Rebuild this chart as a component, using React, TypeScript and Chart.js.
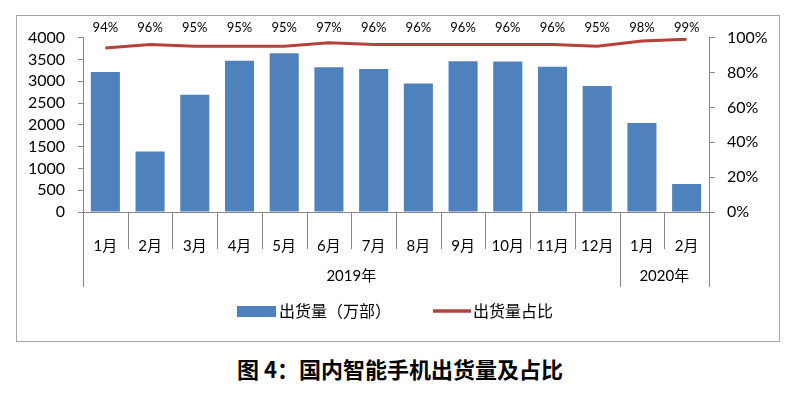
import React, { useEffect, useRef } from "react";
import { Chart, registerables } from "chart.js";

Chart.register(...registerables);

const months = ["1月", "2月", "3月", "4月", "5月", "6月", "7月", "8月", "9月", "10月", "11月", "12月", "1月", "2月"];
const years = ["2019年", "2020年"];
const yearSpans = [12, 2];
const shipments = [3210, 1390, 2690, 3470, 3640, 3320, 3280, 2950, 3460, 3450, 3330, 2890, 2040, 640];
const shares = [94, 96, 95, 95, 95, 97, 96, 96, 96, 96, 96, 95, 98, 99];
const leftMax = 4000;
const leftTickCount = 9;
const rightMax = 100;
const rightTickCount = 6;
const seriesNames = ["出货量（万部）", "出货量占比"];
const titleText = "图 4：国内智能手机出货量及占比";

const BAR = "#4F81BD";
const LINE = "#B5413D";
const AXIS = "#868686";
const NUM_FONT = "Lato, 'Noto Sans CJK SC', sans-serif";
const CJK_FONT = "'Noto Sans CJK SC', sans-serif";

const decoPlugin = {
  id: "deco",
  afterDraw(chart: any) {
    const ctx = chart.ctx;
    const x = chart.scales.x;
    const area = chart.chartArea;
    const band = x.getPixelForValue(1) - x.getPixelForValue(0);
    const first = x.getPixelForValue(0) - band / 2;
    const yearBounds: number[] = [0];
    let acc = 0;
    yearSpans.forEach((s) => {
      acc += s;
      yearBounds.push(acc);
    });
    ctx.save();
    ctx.strokeStyle = AXIS;
    ctx.lineWidth = 1;
    for (let i = 0; i <= months.length; i++) {
      const px = Math.round(first + i * band) + 0.5;
      const full = yearBounds.includes(i);
      ctx.beginPath();
      ctx.moveTo(px, area.bottom);
      ctx.lineTo(px, area.bottom + (full ? 75 : 37));
      ctx.stroke();
    }
    // year labels
    ctx.fillStyle = "#000";
    ctx.font = `15px ${NUM_FONT}`;
    ctx.textAlign = "center";
    ctx.textBaseline = "middle";
    years.forEach((yl, k) => {
      const a = first + yearBounds[k] * band;
      const b = first + yearBounds[k + 1] * band;
      ctx.fillText(yl, (a + b) / 2, area.bottom + 64);
    });
    // percentage labels
    ctx.font = `13px ${NUM_FONT}`;
    shares.forEach((v, i) => {
      ctx.fillText(v + "%", x.getPixelForValue(i), 12);
    });
    // legend
    ctx.fillStyle = BAR;
    ctx.fillRect(220, 290, 39, 11);
    ctx.strokeStyle = LINE;
    ctx.lineWidth = 3.5;
    ctx.beginPath();
    ctx.moveTo(416, 295);
    ctx.lineTo(454, 295);
    ctx.stroke();
    ctx.fillStyle = "#000";
    ctx.font = `16px ${CJK_FONT}`;
    ctx.textAlign = "left";
    ctx.fillText(seriesNames[0], 262, 295);
    ctx.fillText(seriesNames[1], 456, 295);
    ctx.restore();
  },
};

function ChartCanvas() {
  const ref = useRef<HTMLCanvasElement | null>(null);
  useEffect(() => {
    if (!ref.current) return;
    const chart = new Chart(ref.current, {
      type: "bar",
      data: {
        labels: months,
        datasets: [
          {
            type: "line",
            label: seriesNames[1],
            data: shares,
            yAxisID: "y1",
            borderColor: LINE,
            borderWidth: 3,
            pointRadius: 0,
            tension: 0,
            order: 0,
          } as any,
          {
            type: "bar",
            label: seriesNames[0],
            data: shipments,
            yAxisID: "y",
            backgroundColor: BAR,
            categoryPercentage: 1,
            barPercentage: 0.65,
            order: 1,
          },
        ],
      },
      options: {
        responsive: false,
        animation: false,
        devicePixelRatio: 1,
        layout: { padding: { top: 20, left: 0, right: 0, bottom: 0 } },
        plugins: { legend: { display: false }, tooltip: { enabled: false } },
        scales: {
          x: {
            offset: true,
            grid: { display: false },
            border: { display: true, color: AXIS },
            ticks: {
              color: "#000",
              font: { size: 15, family: NUM_FONT },
              padding: 17,
              maxRotation: 0,
              autoSkip: false,
            },
            afterFit: (s: any) => {
              s.height = 129;
            },
          },
          y: {
            position: "left",
            min: 0,
            max: leftMax,
            ticks: {
              count: leftTickCount,
              color: "#000",
              font: { size: 16, family: NUM_FONT, lineHeight: 1 },
              padding: 13,
              autoSkip: false,
              callback: (v: any) => String(v),
            },
            grid: { drawOnChartArea: false, drawTicks: true, tickLength: 5, color: AXIS },
            border: { display: true, color: AXIS },
            afterFit: (s: any) => {
              s.width = 66;
            },
          },
          y1: {
            position: "right",
            min: 0,
            max: rightMax,
            ticks: {
              count: rightTickCount,
              color: "#000",
              font: { size: 16, family: NUM_FONT },
              padding: 12,
              callback: (v: any) => v + "%",
            },
            grid: { drawOnChartArea: false, drawTicks: true, tickLength: 6, color: AXIS },
            border: { display: true, color: AXIS },
            afterFit: (s: any) => {
              s.width = 70;
            },
          },
        },
      },
      plugins: [decoPlugin],
    });
    return () => chart.destroy();
  }, []);
  return <canvas ref={ref} width={762} height={325} style={{ display: "block", width: 762, height: 325 }} />;
}

export default function App() {
  return (
    <div style={{ position: "absolute", left: 0, top: 0, width: 800, height: 397, background: "#fff" }}>
      <div
        style={{
          position: "absolute",
          left: 16,
          top: 15,
          width: 762,
          height: 325,
          border: "1px solid #a6a6a6",
        }}
      >
        <ChartCanvas />
      </div>
      <div
        style={{
          position: "absolute",
          left: 0,
          top: 356,
          width: 800,
          textAlign: "center",
          fontFamily: CJK_FONT,
          fontWeight: "bold",
          fontSize: 22,
          lineHeight: "24px",
          color: "#000",
        }}
      >
        {titleText}
      </div>
    </div>
  );
}
